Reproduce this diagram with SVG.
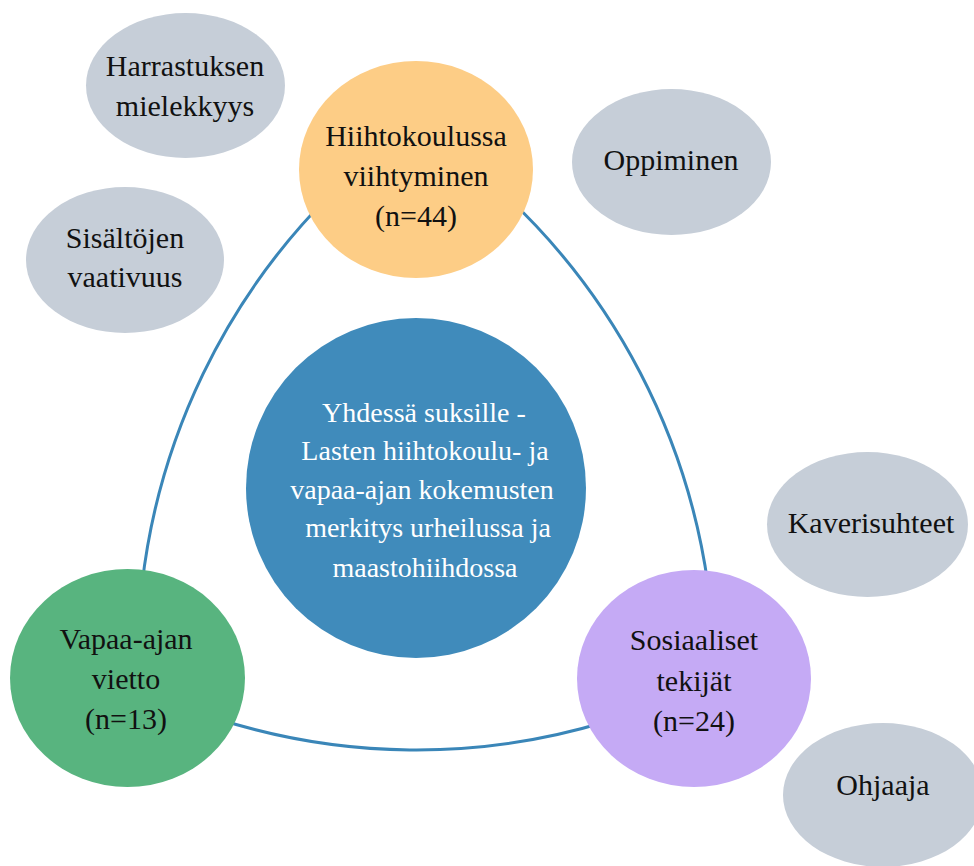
<svg xmlns="http://www.w3.org/2000/svg" width="974" height="866" viewBox="0 0 974 866">
<style>
.t{font-family:'Liberation Serif','Times New Roman','DejaVu Serif',serif;font-size:30px;fill:#111;text-anchor:middle}
.w{font-family:'Liberation Serif','Times New Roman','DejaVu Serif',serif;font-size:28px;fill:#fff;text-anchor:middle}
.g{fill:#c6ced8}
.c{fill:none;stroke:#3a86b8;stroke-width:3}
</style>
<rect width="974" height="866" fill="#fff"/>
<g id="connectors">
<path class="c" d="M330,195 A657,657 0 0 0 142,585"/>
<path class="c" d="M505,195 A657,657 0 0 1 708,585"/>
<path class="c" d="M215,718 A650,650 0 0 0 605,722"/>
</g>
<g id="harrastuksen">
<ellipse class="g" cx="185.5" cy="85.5" rx="99.5" ry="72.5"/>
<text class="t" x="185" y="76">Harrastuksen</text>
<text class="t" x="185" y="116">mielekkyys</text>
</g>
<g id="sisaltojen">
<ellipse class="g" cx="125" cy="260" rx="99" ry="73"/>
<text class="t" x="125" y="248">Sisältöjen</text>
<text class="t" x="125" y="287">vaativuus</text>
</g>
<g id="oppiminen">
<ellipse class="g" cx="671.5" cy="162" rx="99.5" ry="73"/>
<text class="t" x="671" y="170">Oppiminen</text>
</g>
<g id="kaverisuhteet">
<ellipse class="g" cx="867.5" cy="524.5" rx="100.5" ry="72.5"/>
<text class="t" x="871" y="533">Kaverisuhteet</text>
</g>
<g id="ohjaaja">
<ellipse class="g" cx="883" cy="795" rx="100" ry="72"/>
<text class="t" x="883" y="795">Ohjaaja</text>
</g>
<g id="hiihtokoulussa">
<ellipse cx="416" cy="169.5" rx="117" ry="108.5" fill="#fdcd86"/>
<text class="t" x="416" y="146">Hiihtokoulussa</text>
<text class="t" x="416" y="186">viihtyminen</text>
<text class="t" x="416" y="226">(n=44)</text>
</g>
<g id="keskus">
<circle cx="416" cy="488" r="170" fill="#408bbb"/>
<text class="w" x="424" y="422">Yhdessä suksille -</text>
<text class="w" x="425" y="460">Lasten hiihtokoulu- ja</text>
<text class="w" x="422" y="499">vapaa-ajan kokemusten</text>
<text class="w" x="428" y="537">merkitys urheilussa ja</text>
<text class="w" x="425" y="577">maastohiihdossa</text>
</g>
<g id="vapaa-aika">
<ellipse cx="127.5" cy="678" rx="117.5" ry="109" fill="#58b47f"/>
<text class="t" x="126" y="649">Vapaa-ajan</text>
<text class="t" x="126" y="689">vietto</text>
<text class="t" x="126" y="729">(n=13)</text>
</g>
<g id="sosiaaliset">
<ellipse cx="694" cy="678.5" rx="117" ry="108.5" fill="#c5aaf5"/>
<text class="t" x="694" y="650">Sosiaaliset</text>
<text class="t" x="694" y="691">tekijät</text>
<text class="t" x="694" y="731">(n=24)</text>
</g>
</svg>
